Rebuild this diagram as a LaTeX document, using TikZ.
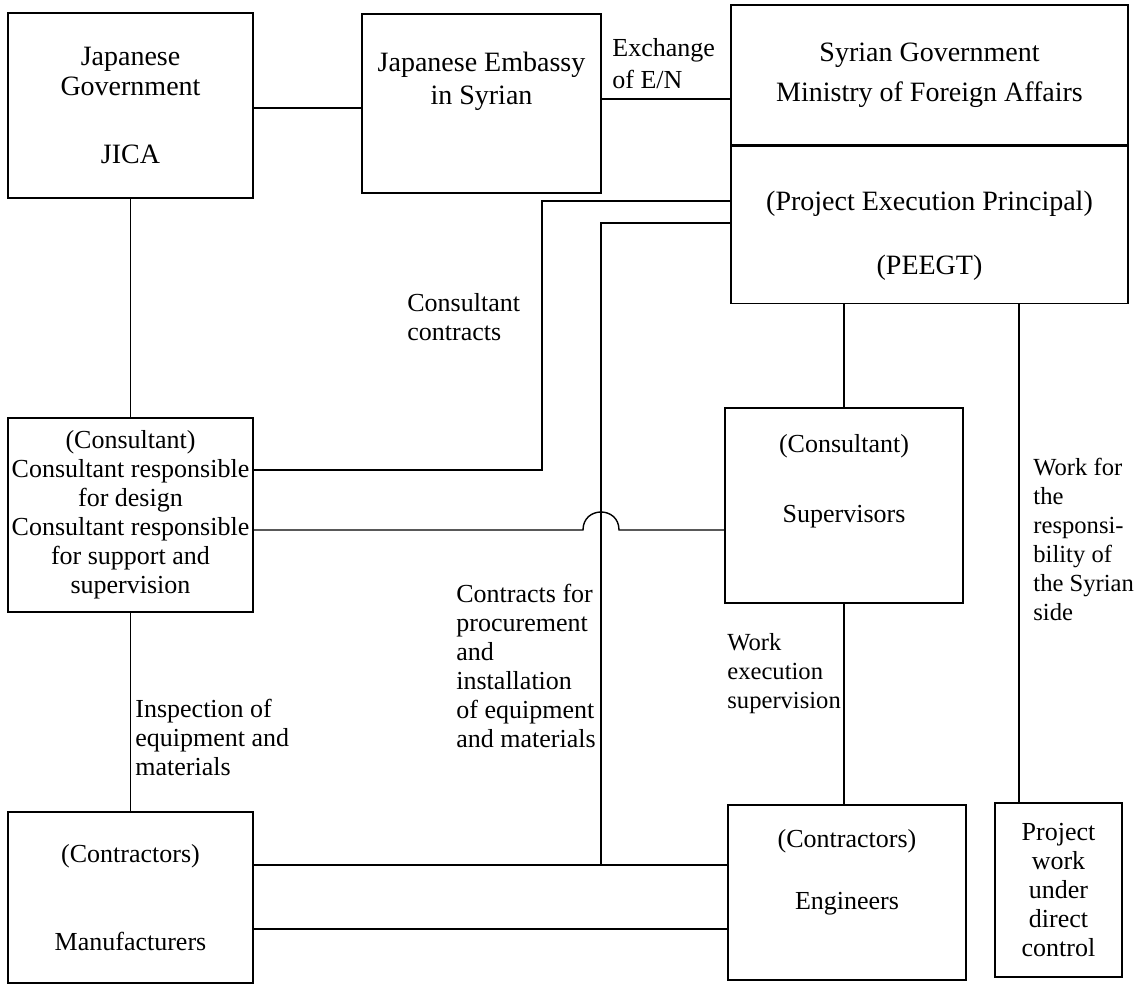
\documentclass[tikz,border=0pt]{standalone}
\usepackage{fontspec}
\setmainfont{Liberation Serif}
\usetikzlibrary{positioning}
\newcommand{\fs}{\fontsize{13}{14.5}\selectfont}
\newcommand{\fsbig}{\fontsize{14}{15}\selectfont}
\newcommand{\fssmall}{\fontsize{12.3}{14.5}\selectfont}

\begin{document}
\begin{tikzpicture}[x=0.5pt,y=-0.5pt]
\tikzstyle{org box} = [draw, line width=0.7pt, inner sep=0pt, align=center, font=\fs]
\tikzstyle{top box} = [org box, font=\fsbig]
\tikzstyle{link label} = [inner sep=0pt, align=left, anchor=west, font=\fs]
\tikzstyle{link} = [draw, line width=0.7pt]
\useasboundingbox (0,0) rectangle (1139,985);
% boxes
\node[top box, minimum width=122.5pt, minimum height=92.5pt] (jica) at (130.5,105.5) {Japanese\\Government\\[19pt]JICA};
\node[top box, minimum width=119.5pt, minimum height=89.5pt] (embassy) at (481.5,103.5) {Japanese Embassy\\[1.5pt]in Syrian\\[10pt]\mbox{}};
\node[top box, minimum width=198.5pt, minimum height=70pt] (syrian) at (929.5,75) {Syrian Government\\[5pt]Ministry of Foreign Affairs};
\node[top box, minimum width=198.5pt, minimum height=78.5pt, below=0pt of syrian] (peegt) {\mbox{}\\[6pt](Project Execution Principal)\\[17pt](PEEGT)};
\node[org box, minimum width=122.5pt, minimum height=97pt] (cons) at (130.5,515) {(Consultant)\\Consultant responsible\\for design\\Consultant responsible\\for support and\\supervision};
\node[org box, minimum width=119pt, minimum height=97.5pt] (superv) at (844,505.5) {(Consultant)\\[20.5pt]Supervisors\\[13pt]\mbox{}};
\node[org box, minimum width=122.5pt, minimum height=85.5pt] (manuf) at (130.5,897.5) {(Contractors)\\[29.5pt]Manufacturers};
\node[org box, minimum width=119pt, minimum height=87.5pt] (engin) at (847,892.5) {(Contractors)\\[16.5pt]Engineers\\[9pt]\mbox{}};
\node[org box, minimum width=63.5pt, minimum height=87pt] (direct) at (1058.5,890) {Project\\work\\under\\direct\\control};
% labels
\node[link label] (exchange) at (612,64) {Exchange\\[1.5pt]of E/N};
\node[link label] (cclabel) at (407,317.5) {Consultant\\contracts};
\node[link label] (pclabel) at (456,665.5) {Contracts for\\procurement\\and\\installation\\of equipment\\and materials};
\node[link label] (inspect) at (135,737) {Inspection of\\equipment and\\materials};
\node[link label, font=\fssmall] (execsup) at (727,674) {Work\\execution\\supervision};
\node[link label, font=\fssmall] (sidework) at (1033,539.5) {Work for\\the\\responsi-\\bility of\\the Syrian\\side};
% bends
\coordinate (ccLow) at (542,470);
\coordinate (ccTop) at (542,201);
\coordinate (pcLow) at (601,865);
\coordinate (pcTop) at (601,223);
\coordinate (hopL) at (583,530);
\coordinate (hopR) at (619,530);
\coordinate (mfLow) at (400,929);
\coordinate (sideX) at (1019,550);
% connectors
\path[link] ([yshift=-1.25pt]jica.east) -- ([yshift=-1.25pt]jica.east -| embassy.west);
\path[link] ([yshift=2.25pt]embassy.east) -- ([yshift=2.25pt]embassy.east -| syrian.west);
\path[link] (jica) -- (cons);
\path[link] (cons) -- (manuf);
\path[link] (cons.east |- ccLow) -- (ccLow) -- (ccTop) -- (ccTop -| peegt.west);
\path[link] (cons.east |- hopL) -- (hopL) .. controls +(0,-24) and +(0,-24) .. (hopR) -- (hopR -| superv.west);
\path[link] (manuf.east |- pcLow) -- (pcLow -| engin.west);
\path[link] (pcLow) -- (pcTop) -- (pcTop -| peegt.west);
\path[link] (manuf.east |- mfLow) -- (mfLow -| engin.west);
\path[link] (superv.north) -- (superv.north |- peegt.south);
\path[link] (superv.south) -- (superv.south |- engin.north);
\path[link] (sideX |- peegt.south) -- (sideX |- direct.north);
\end{tikzpicture}
\end{document}
